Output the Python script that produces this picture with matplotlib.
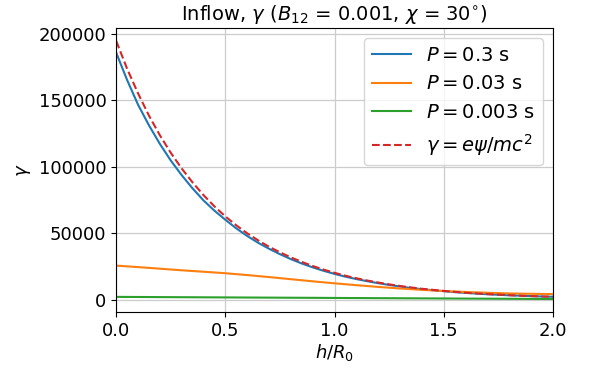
import matplotlib
matplotlib.use("Agg")
import matplotlib.pyplot as plt
import numpy as np

# fine grid (step 0.05) for the steep curves
h_fine = [0.00, 0.05, 0.10, 0.15, 0.20, 0.25, 0.30, 0.35, 0.40, 0.45, 0.50,
          0.55, 0.60, 0.65, 0.70, 0.75, 0.80, 0.85, 0.90, 0.95, 1.00,
          1.05, 1.10, 1.15, 1.20, 1.25, 1.30, 1.35, 1.40, 1.45, 1.50,
          1.55, 1.60, 1.65, 1.70, 1.75, 1.80, 1.85, 1.90, 1.95, 2.00]
gamma_p03 = [185600, 165000, 146500, 131000, 117000, 104500, 93500, 83500, 74500, 66800, 60000,
             53500, 47800, 42700, 38200, 34100, 30400, 27100, 24200, 21600, 19300,
             17200, 15400, 13800, 12300, 11000, 9800, 8700, 7800, 7000, 6300,
             5600, 5000, 4500, 4000, 3600, 3200, 2900, 2600, 2300, 2100]
gamma_epsi = [194400, 173500, 155000, 138300, 123500, 110300, 98500, 88000, 78500, 70000, 62500,
              55800, 49800, 44500, 39700, 35500, 31700, 28300, 25200, 22500, 20100,
              17900, 16000, 14300, 12800, 11400, 10200, 9100, 8100, 7300, 6500,
              5800, 5100, 4600, 4100, 3700, 3300, 2900, 2600, 2300, 2100]

# coarse grid (step 0.1) for the flatter curves
h = [0.0, 0.1, 0.2, 0.3, 0.4, 0.5, 0.6, 0.7, 0.8, 0.9, 1.0,
     1.1, 1.2, 1.3, 1.4, 1.5, 1.6, 1.7, 1.8, 1.9, 2.0]
gamma_p003 = [25500, 24400, 23200, 22000, 20900, 19800, 18400, 16900, 15300, 13700, 12200,
              10800, 9500, 8300, 7300, 6400, 5700, 5100, 4600, 4300, 4100]
gamma_p0003 = [2000, 1920, 1840, 1760, 1680, 1600, 1520, 1440, 1360, 1280, 1200,
               1120, 1040, 960, 880, 800, 720, 640, 560, 480, 400]

labels = [r"$P = 0.3$ s", r"$P = 0.03$ s", r"$P = 0.003$ s", r"$\gamma = e\psi/mc^2$"]

fig = plt.figure(figsize=(5.9, 3.7), dpi=100)
ax = fig.add_axes([0.197, 0.157, 0.740, 0.767])
fs = 13
ax.plot(h_fine, gamma_p03, color="C0", lw=1.5, label=labels[0])
ax.plot(h, gamma_p003, color="C1", lw=1.5, label=labels[1])
ax.plot(h, gamma_p0003, color="C2", lw=1.5, label=labels[2])
ax.plot(h_fine, gamma_epsi, color="C3", lw=1.5, ls="--", label=labels[3])
ax.set_xlim(0, 2)
ax.set_xticks([0.0, 0.5, 1.0, 1.5, 2.0])
ax.set_yticks([0, 50000, 100000, 150000, 200000])
ax.grid(True, color="#cccccc", lw=0.9)
ax.tick_params(labelsize=fs)
ax.set_xlabel(r"$h/R_0$", fontsize=fs, labelpad=2)
ax.set_ylabel(r"$\gamma$", fontsize=fs)
ax.set_title(r"Inflow, $\gamma$ ($B_{12}$ = 0.001, $\chi$ = 30$^{\circ}$)", fontsize=14)
ax.legend(loc="upper right", fontsize=14)
fig.savefig("out.png", dpi=100)
